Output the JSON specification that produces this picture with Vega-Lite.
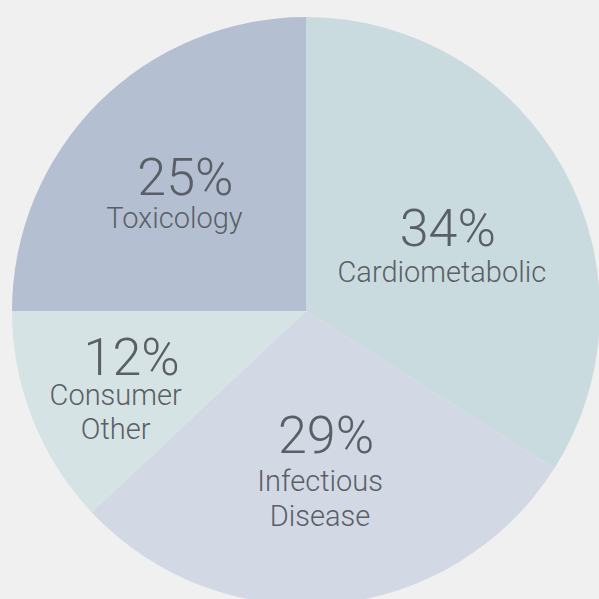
{
  "$schema": "https://vega.github.io/schema/vega-lite/v6.json",
  "width": 588,
  "height": 588,
  "padding": {"left": 12, "top": 17, "right": 0, "bottom": 0},
  "background": "#f0f0f0",
  "config": {"view": {"stroke": null}, "text": {"font": "Roboto", "fontWeight": 300, "color": "#5a5f66", "align": "center", "baseline": "alphabetic"}},
  "data": {
    "values": [
      {"category": "Cardiometabolic", "label": "Cardiometabolic", "pct": 34, "pctText": "34%", "order": 1},
      {"category": "Infectious Disease", "label": "Infectious\nDisease", "pct": 29, "pctText": "29%", "order": 2},
      {"category": "Consumer Other", "label": "Consumer\nOther", "pct": 12, "pctText": "12%", "order": 3},
      {"category": "Toxicology", "label": "Toxicology", "pct": 25, "pctText": "25%", "order": 4}
    ]
  },
  "encoding": {
    "theta": {"field": "pct", "type": "quantitative", "stack": true},
    "order": {"field": "order", "type": "quantitative"}
  },
  "layer": [
    {
      "mark": {"type": "arc", "outerRadius": 294},
      "encoding": {
        "color": {
          "field": "category",
          "type": "nominal",
          "scale": {
            "domain": ["Cardiometabolic", "Infectious Disease", "Consumer Other", "Toxicology"],
            "range": ["#c9dbde", "#d2d8e4", "#d5e3e4", "#b4bfd2"]
          },
          "legend": null
        }
      }
    },
    {
      "mark": {"type": "text", "fontSize": 52, "radius": 163, "dx": -1, "dy": 14},
      "encoding": {"text": {"condition": {"test": "datum.category === 'Cardiometabolic'", "field": "pctText"}, "value": ""}}
    },
    {
      "mark": {"type": "text", "fontSize": 29, "radius": 163, "dx": -7, "dy": 50},
      "encoding": {"text": {"condition": {"test": "datum.category === 'Cardiometabolic'", "field": "label"}, "value": ""}}
    },
    {
      "mark": {"type": "text", "fontSize": 52, "radius": 179, "dx": 6, "dy": 11},
      "encoding": {"text": {"condition": {"test": "datum.category === 'Toxicology'", "field": "pctText"}, "value": ""}}
    },
    {
      "mark": {"type": "text", "fontSize": 29, "radius": 179, "dx": -5, "dy": 44},
      "encoding": {"text": {"condition": {"test": "datum.category === 'Toxicology'", "field": "label"}, "value": ""}}
    },
    {
      "mark": {"type": "text", "fontSize": 52, "radius": 180, "dx": -7, "dy": -2},
      "encoding": {"text": {"condition": {"test": "datum.category === 'Consumer Other'", "field": "pctText"}, "value": ""}}
    },
    {
      "mark": {"type": "text", "fontSize": 29, "radius": 180, "dx": -23, "dy": 28, "lineBreak": "\n", "lineHeight": 34},
      "encoding": {"text": {"condition": {"test": "datum.category === 'Consumer Other'", "field": "label"}, "value": ""}}
    },
    {
      "mark": {"type": "text", "fontSize": 52, "radius": 128, "dx": 8, "dy": 15},
      "encoding": {"text": {"condition": {"test": "datum.category === 'Infectious Disease'", "field": "pctText"}, "value": ""}}
    },
    {
      "mark": {"type": "text", "fontSize": 29, "radius": 128, "dx": 2, "dy": 53, "lineBreak": "\n", "lineHeight": 35},
      "encoding": {"text": {"condition": {"test": "datum.category === 'Infectious Disease'", "field": "label"}, "value": ""}}
    }
  ]
}
